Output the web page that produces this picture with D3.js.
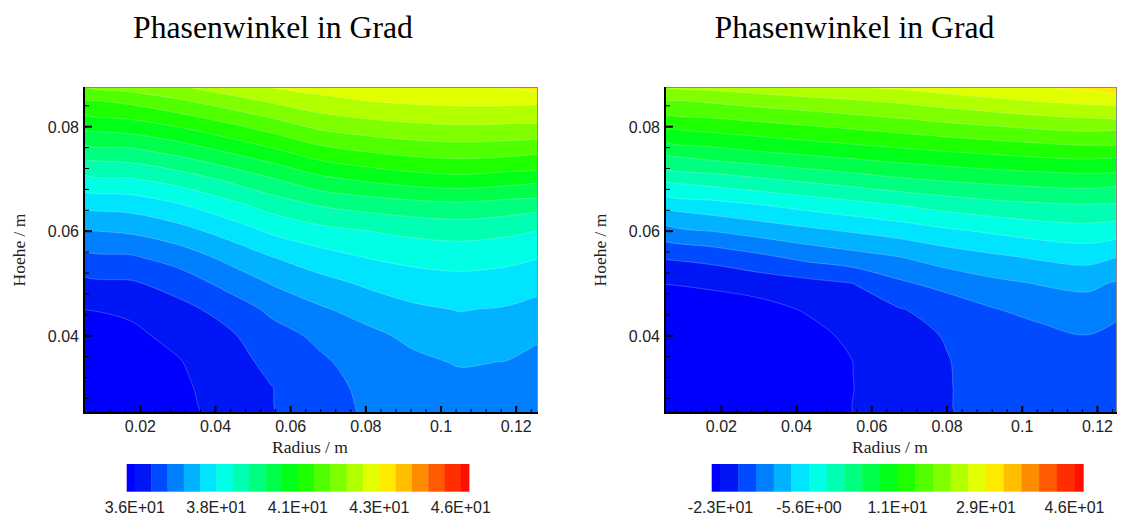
<!DOCTYPE html>
<html><head><meta charset="utf-8">
<script src="https://cdn.jsdelivr.net/npm/d3@7"></script>
<style>body{margin:0;background:#fff}svg{display:block}</style>
</head><body>
<svg id="c" width="1121" height="519"></svg>
<script>
// ---- data grid (node coordinates, m) ----
const xNodes = [0.005, 0.0175, 0.03, 0.0425, 0.055, 0.0675, 0.08, 0.0925, 0.105, 0.1175, 0.13];
const yNodes = [0.025, 0.03, 0.035, 0.04, 0.045, 0.05, 0.055, 0.06, 0.065, 0.07, 0.075, 0.08, 0.085, 0.09];

// phase angle (deg), rows from bottom (y=0.025) to top, 11 values per row
const leftPhase = [
  35.46, 35.58, 35.84, 36.15, 36.46, 36.74, 37.03, 37.13, 37.20, 37.23, 37.23,
  35.61, 35.69, 35.91, 36.18, 36.48, 36.79, 37.08, 37.20, 37.32, 37.35, 37.32,
  35.73, 35.80, 35.97, 36.27, 36.62, 36.90, 37.18, 37.37, 37.51, 37.46, 37.40,
  35.87, 35.91, 36.12, 36.39, 36.78, 37.08, 37.34, 37.58, 37.74, 37.68, 37.46,
  36.00, 36.07, 36.34, 36.64, 37.09, 37.40, 37.65, 37.87, 37.98, 37.92, 37.72,
  36.37, 36.43, 36.68, 37.11, 37.50, 37.78, 38.03, 38.21, 38.28, 38.22, 38.05,
  36.84, 36.92, 37.19, 37.57, 37.95, 38.25, 38.46, 38.59, 38.65, 38.58, 38.42,
  37.44, 37.54, 37.77, 38.12, 38.53, 38.77, 38.93, 39.06, 39.12, 39.04, 38.88,
  38.08, 38.15, 38.40, 38.76, 39.14, 39.46, 39.62, 39.74, 39.81, 39.71, 39.54,
  38.81, 38.91, 39.15, 39.50, 39.89, 40.28, 40.51, 40.67, 40.76, 40.66, 40.51,
  39.65, 39.75, 40.03, 40.38, 40.74, 41.14, 41.36, 41.51, 41.57, 41.52, 41.40,
  40.54, 40.66, 40.91, 41.24, 41.60, 41.98, 42.15, 42.26, 42.32, 42.29, 42.18,
  41.33, 41.53, 41.82, 42.14, 42.45, 42.71, 42.87, 42.96, 43.00, 43.00, 42.95,
  42.39, 42.58, 42.81, 43.05, 43.30, 43.36, 43.49, 43.58, 43.62, 43.73, 43.97
];
const rightPhase = [
  -27.29, -26.94, -26.43, -25.41, -22.71, -21.10, -19.53, -18.07, -17.85, -17.55, -17.38,
  -26.94, -26.60, -26.09, -25.07, -22.71, -21.07, -19.47, -17.83, -17.60, -17.14, -16.94,
  -26.43, -26.09, -25.58, -24.55, -22.66, -21.04, -19.43, -17.48, -17.30, -16.60, -16.36,
  -25.75, -25.41, -24.90, -23.87, -21.92, -20.63, -19.00, -16.94, -16.94, -15.91, -16.12,
  -24.72, -24.38, -23.87, -22.40, -20.63, -19.43, -18.00, -16.02, -14.62, -14.00, -15.88,
  -22.61, -22.09, -21.19, -20.30, -19.25, -16.41, -14.60, -13.20, -12.23, -11.68, -13.49,
  -18.96, -18.16, -16.63, -14.96, -13.71, -12.51, -10.84, -9.63, -8.55, -7.87, -9.75,
  -13.84, -12.41, -11.09, -9.87, -8.75, -7.57, -6.23, -5.10, -4.08, -3.61, -4.74,
  -7.97, -6.81, -5.72, -4.47, -3.29, -2.09, -0.81, 0.15, 0.75, 1.02, 0.07,
  -1.40, -0.22, 0.92, 2.05, 3.20, 4.37, 5.19, 5.87, 6.38, 6.69, 5.70,
  5.33, 6.61, 7.71, 8.63, 9.49, 10.36, 11.16, 11.86, 12.55, 12.99, 12.26,
  12.00, 12.87, 13.71, 14.57, 15.44, 16.35, 17.30, 18.14, 18.92, 19.44, 18.91,
  17.94, 18.90, 19.83, 20.69, 21.48, 22.37, 23.48, 24.48, 25.40, 26.14, 26.39,
  25.28, 26.11, 26.97, 27.83, 28.41, 28.94, 29.89, 30.62, 31.36, 32.33, 33.41
];

// contour levels
const leftLevels = [36.00, 36.49, 36.98, 37.47, 37.96, 38.45, 38.94, 39.43, 39.92, 40.41, 40.90,
  41.39, 41.88, 42.37, 42.86, 43.35, 43.84, 44.33, 44.82, 45.31, 45.80];
const rightLevels = [-22.675, -19.26, -15.845, -12.43, -9.015, -5.6, -2.185, 1.23, 4.645, 8.06, 11.475,
  14.89, 18.305, 21.72, 25.135, 28.55, 31.965, 35.38, 38.795, 42.21, 45.625];
const legendLevelIndex = [0, 5, 10, 15, 20];
const leftLegendLabels = ["3.6E+01", "3.8E+01", "4.1E+01", "4.3E+01", "4.6E+01"];
const rightLegendLabels = ["-2.3E+01", "-5.6E+00", "1.1E+01", "2.9E+01", "4.6E+01"];

const bandColors = ["rgb(0,0,255)", "rgb(0,22,245)", "rgb(0,75,255)", "rgb(0,128,255)", "rgb(0,178,255)",
  "rgb(0,228,255)", "rgb(0,255,228)", "rgb(0,255,178)", "rgb(0,255,128)", "rgb(0,255,75)",
  "rgb(0,255,25)", "rgb(30,255,0)", "rgb(80,255,0)", "rgb(128,255,0)", "rgb(178,255,0)",
  "rgb(225,255,0)", "rgb(255,235,0)", "rgb(255,190,0)", "rgb(255,140,0)", "rgb(255,90,0)",
  "rgb(255,45,0)", "rgb(255,15,0)"];

const xTicks = [0.02, 0.04, 0.06, 0.08, 0.1, 0.12];
const xTickLabels = ["0.02", "0.04", "0.06", "0.08", "0.1", "0.12"];
const yTicks = [0.04, 0.06, 0.08];
const yTickLabels = ["0.04", "0.06", "0.08"];
const titleText = "Phasenwinkel in Grad";
const xTitle = "Radius / m";
const yTitle = "Hoehe / m";

// ---- drawing ----
const svg = d3.select("#c");
const SERIF = "'Liberation Serif','Times New Roman',serif";
const SANS = "'Liberation Sans',Arial,sans-serif";

const panels = [
  {id: "L", values: leftPhase, levels: leftLevels, labels: leftLegendLabels,
   xDomain: [0.005, 0.1258], left: 84, right: 538, titleX: 273, cb: [126.7, 469]},
  {id: "R", values: rightPhase, levels: rightLevels, labels: rightLegendLabels,
   xDomain: [0.005, 0.1252], left: 665, right: 1117, titleX: 854.5, cb: [711.7, 1083.3]}
];
const plotTop = 87, plotBottom = 413;
const yDomain = [0.0252, 0.0876];

const nx = xNodes.length, ny = yNodes.length;
const gx = d3.scaleLinear().domain([0.5, nx - 0.5]).range([xNodes[0], xNodes[nx - 1]]);
const gy = d3.scaleLinear().domain([0.5, ny - 0.5]).range([yNodes[0], yNodes[ny - 1]]);
const ringLine = d3.line().curve(d3.curveCatmullRomClosed.alpha(0.5));

panels.forEach(p => {
  const xs = d3.scaleLinear().domain(p.xDomain).range([p.left, p.right]);
  const ys = d3.scaleLinear().domain(yDomain).range([plotBottom, plotTop]);

  svg.append("defs").append("clipPath").attr("id", "clip" + p.id)
    .append("rect").attr("x", p.left).attr("y", plotTop)
    .attr("width", p.right - p.left).attr("height", plotBottom - plotTop);

  const g = svg.append("g").attr("clip-path", `url(#clip${p.id})`);
  g.append("rect").attr("x", p.left).attr("y", plotTop)
    .attr("width", p.right - p.left).attr("height", plotBottom - plotTop)
    .attr("fill", bandColors[0]);

  const mpPath = mp => mp.coordinates.map(poly => poly.map(ring => {
    const pts = ring.slice(0, -1).map(([x, y]) => [xs(gx(x)), ys(gy(y))]);
    return pts.length > 2 ? ringLine(pts) : "";
  }).join("")).join("");

  const contours = d3.contours().size([nx, ny]).thresholds(p.levels)(p.values);
  g.selectAll("path.band").data(contours).join("path")
    .attr("class", "band")
    .attr("d", mpPath)
    .attr("fill", (d, i) => bandColors[i + 1])
    .attr("stroke", "rgba(255,255,255,0.28)")
    .attr("stroke-width", 0.8);

  // frame
  svg.append("line").attr("x1", p.left).attr("x2", p.right).attr("y1", plotTop + 0.5).attr("y2", plotTop + 0.5)
    .attr("stroke", "#8a8a8a").attr("stroke-width", 1);
  svg.append("line").attr("x1", p.right - 0.5).attr("x2", p.right - 0.5).attr("y1", plotTop).attr("y2", plotBottom)
    .attr("stroke", "#8a8a8a").attr("stroke-width", 1);
  svg.append("line").attr("x1", p.left - 1).attr("x2", p.right).attr("y1", plotBottom).attr("y2", plotBottom)
    .attr("stroke", "#000").attr("stroke-width", 2);
  svg.append("line").attr("x1", p.left).attr("x2", p.left).attr("y1", plotTop).attr("y2", plotBottom + 1)
    .attr("stroke", "#000").attr("stroke-width", 2);

  // x ticks
  const xMinor = d3.range(0.008, 0.1255, 0.004).filter(v => v >= p.xDomain[0] && v <= p.xDomain[1]);
  xMinor.forEach(v => {
    svg.append("line").attr("x1", xs(v)).attr("x2", xs(v)).attr("y1", plotBottom).attr("y2", plotBottom - 4)
      .attr("stroke", "#000").attr("stroke-width", 1);
  });
  xTicks.forEach((v, i) => {
    svg.append("line").attr("x1", xs(v)).attr("x2", xs(v)).attr("y1", plotBottom).attr("y2", plotBottom - 7)
      .attr("stroke", "#000").attr("stroke-width", 2);
    svg.append("text").attr("x", xs(v)).attr("y", 431.5).attr("text-anchor", "middle")
      .attr("font-family", SANS).attr("font-size", 16).attr("fill", "#222").text(xTickLabels[i]);
  });
  // y ticks
  const yMinor = d3.range(0.028, 0.0875, 0.004);
  yMinor.forEach(v => {
    svg.append("line").attr("x1", p.left).attr("x2", p.left + 5).attr("y1", ys(v)).attr("y2", ys(v))
      .attr("stroke", "#000").attr("stroke-width", 1);
  });
  yTicks.forEach((v, i) => {
    svg.append("line").attr("x1", p.left).attr("x2", p.left + 8).attr("y1", ys(v)).attr("y2", ys(v))
      .attr("stroke", "#000").attr("stroke-width", 2);
    svg.append("text").attr("x", p.left - 5).attr("y", ys(v) + 6).attr("text-anchor", "end")
      .attr("font-family", SANS).attr("font-size", 16).attr("fill", "#222").text(yTickLabels[i]);
  });

  // titles
  svg.append("text").attr("x", p.titleX).attr("y", 38).attr("text-anchor", "middle")
    .attr("font-family", SERIF).attr("font-size", 31.7).attr("fill", "#000").text(titleText);
  svg.append("text").attr("x", (p.left + p.right) / 2 - 1).attr("y", 453.3).attr("text-anchor", "middle")
    .attr("font-family", SERIF).attr("font-size", 17.5).attr("fill", "#222").text(xTitle);
  svg.append("text").attr("transform", `translate(${p.left - 59},250) rotate(-90)`).attr("text-anchor", "middle")
    .attr("font-family", SERIF).attr("font-size", 17.5).attr("fill", "#222").text(yTitle);

  // colour legend
  const s = p.levels[1] - p.levels[0];
  const L = p.levels;
  const cbs = d3.scaleLinear().domain([L[0] - s / 2, L[L.length - 1] + s / 2]).range(p.cb);
  const edges = [L[0] - s / 2].concat(L, [L[L.length - 1] + s / 2]);
  svg.append("g").selectAll("rect").data(bandColors).join("rect")
    .attr("x", (d, i) => cbs(edges[i]))
    .attr("width", (d, i) => cbs(edges[i + 1]) - cbs(edges[i]) + 0.4)
    .attr("y", 464).attr("height", 27.7)
    .attr("fill", d => d);
  legendLevelIndex.forEach((k, i) => {
    svg.append("text").attr("x", cbs(L[k])).attr("y", 513).attr("text-anchor", "middle")
      .attr("font-family", SANS).attr("font-size", 16).attr("fill", "#222").text(p.labels[i]);
  });
});
</script>
</body></html>
